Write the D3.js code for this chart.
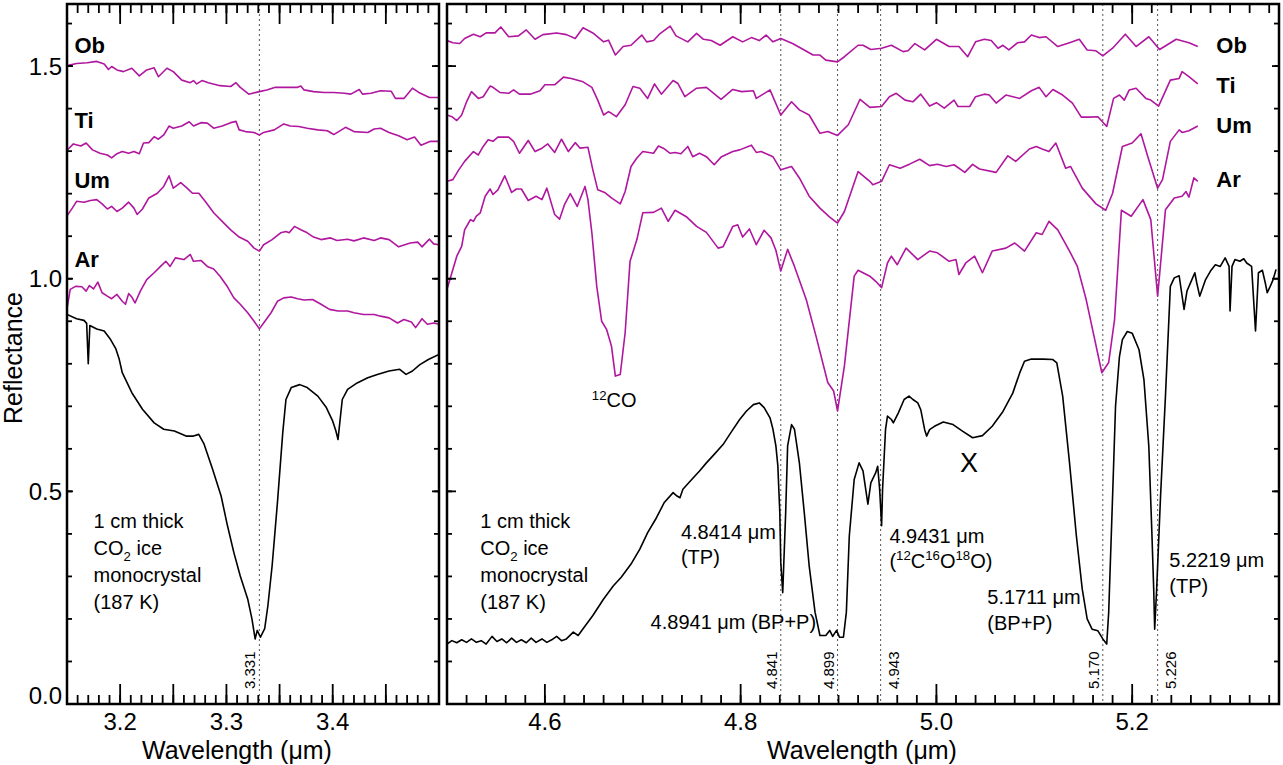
<!DOCTYPE html>
<html>
<head>
<meta charset="utf-8">
<script src="https://cdn.jsdelivr.net/npm/d3@7"></script>
<style>
  body { margin: 0; background: #fff; }
  svg { display: block; font-family: "Liberation Sans", Arial, sans-serif; }
</style>
</head>
<body>
<svg></svg>
<script>
// spectra, [wavelength (um), reflectance]
var obLeft = [[3.150,1.501],[3.159,1.506],[3.169,1.508],[3.178,1.511],[3.185,1.505],[3.189,1.492],[3.192,1.499],[3.197,1.491],[3.203,1.487],[3.211,1.495],[3.218,1.477],[3.225,1.491],[3.232,1.496],[3.236,1.475],[3.244,1.495],[3.250,1.487],[3.258,1.467],[3.266,1.461],[3.269,1.466],[3.272,1.458],[3.277,1.466],[3.283,1.461],[3.294,1.454],[3.304,1.452],[3.309,1.461],[3.313,1.450],[3.321,1.434],[3.331,1.440],[3.338,1.444],[3.346,1.450],[3.357,1.450],[3.367,1.450],[3.370,1.453],[3.373,1.444],[3.382,1.440],[3.392,1.438],[3.401,1.438],[3.411,1.436],[3.417,1.434],[3.425,1.445],[3.428,1.434],[3.436,1.436],[3.445,1.442],[3.455,1.441],[3.459,1.424],[3.467,1.424],[3.475,1.448],[3.481,1.438],[3.491,1.426],[3.500,1.426]];
var tiLeft = [[3.150,1.302],[3.156,1.317],[3.163,1.312],[3.168,1.319],[3.174,1.303],[3.181,1.295],[3.188,1.291],[3.192,1.284],[3.197,1.294],[3.202,1.299],[3.208,1.295],[3.213,1.299],[3.218,1.294],[3.222,1.319],[3.227,1.320],[3.232,1.334],[3.236,1.328],[3.241,1.338],[3.246,1.359],[3.250,1.354],[3.258,1.359],[3.265,1.369],[3.269,1.359],[3.276,1.367],[3.282,1.366],[3.288,1.354],[3.296,1.359],[3.304,1.367],[3.309,1.370],[3.312,1.350],[3.318,1.346],[3.326,1.344],[3.331,1.338],[3.335,1.344],[3.345,1.350],[3.354,1.364],[3.360,1.359],[3.368,1.358],[3.376,1.354],[3.386,1.350],[3.395,1.348],[3.401,1.339],[3.412,1.356],[3.420,1.346],[3.433,1.344],[3.439,1.352],[3.445,1.354],[3.453,1.344],[3.462,1.336],[3.470,1.327],[3.477,1.333],[3.483,1.314],[3.492,1.323],[3.500,1.323]];
var umLeft = [[3.150,1.148],[3.155,1.166],[3.159,1.182],[3.166,1.180],[3.172,1.184],[3.178,1.186],[3.183,1.176],[3.188,1.164],[3.192,1.170],[3.197,1.158],[3.202,1.166],[3.208,1.180],[3.213,1.166],[3.216,1.151],[3.221,1.164],[3.227,1.190],[3.235,1.201],[3.241,1.217],[3.246,1.242],[3.250,1.213],[3.257,1.226],[3.263,1.213],[3.268,1.201],[3.274,1.201],[3.280,1.182],[3.288,1.155],[3.296,1.135],[3.304,1.115],[3.312,1.098],[3.320,1.088],[3.326,1.072],[3.331,1.065],[3.335,1.080],[3.343,1.092],[3.351,1.108],[3.356,1.111],[3.359,1.108],[3.364,1.123],[3.370,1.115],[3.376,1.108],[3.382,1.098],[3.389,1.092],[3.398,1.096],[3.404,1.090],[3.414,1.093],[3.420,1.089],[3.429,1.096],[3.439,1.090],[3.445,1.096],[3.453,1.092],[3.462,1.075],[3.473,1.084],[3.480,1.086],[3.484,1.075],[3.491,1.093],[3.495,1.082],[3.500,1.080]];
var arLeft = [[3.150,0.929],[3.153,0.975],[3.158,0.982],[3.164,0.981],[3.168,0.971],[3.171,0.984],[3.175,0.976],[3.179,0.992],[3.183,0.967],[3.188,0.959],[3.192,0.953],[3.197,0.963],[3.202,0.947],[3.205,0.940],[3.208,0.965],[3.211,0.957],[3.214,0.943],[3.219,0.971],[3.225,0.998],[3.232,1.014],[3.238,1.029],[3.243,1.041],[3.247,1.029],[3.252,1.049],[3.260,1.045],[3.266,1.057],[3.269,1.041],[3.276,1.043],[3.282,1.029],[3.288,1.023],[3.294,1.006],[3.301,0.981],[3.307,0.955],[3.313,0.940],[3.320,0.920],[3.326,0.900],[3.331,0.882],[3.335,0.896],[3.342,0.920],[3.348,0.947],[3.354,0.955],[3.361,0.957],[3.367,0.953],[3.373,0.950],[3.381,0.951],[3.389,0.940],[3.397,0.928],[3.405,0.924],[3.414,0.924],[3.420,0.920],[3.429,0.916],[3.439,0.916],[3.445,0.912],[3.453,0.908],[3.461,0.896],[3.467,0.904],[3.474,0.898],[3.478,0.885],[3.484,0.906],[3.489,0.893],[3.495,0.896],[3.500,0.893]];
var co2Left = [[3.150,0.916],[3.159,0.906],[3.166,0.902],[3.1685,0.895],[3.170,0.800],[3.1715,0.890],[3.178,0.882],[3.185,0.877],[3.191,0.857],[3.196,0.835],[3.199,0.812],[3.202,0.779],[3.211,0.732],[3.221,0.693],[3.232,0.661],[3.241,0.646],[3.251,0.642],[3.262,0.630],[3.269,0.630],[3.274,0.634],[3.279,0.611],[3.287,0.552],[3.295,0.489],[3.301,0.419],[3.307,0.356],[3.313,0.301],[3.320,0.247],[3.324,0.200],[3.327,0.153],[3.329,0.173],[3.332,0.157],[3.336,0.177],[3.339,0.231],[3.343,0.325],[3.348,0.474],[3.353,0.638],[3.356,0.716],[3.361,0.744],[3.369,0.751],[3.376,0.744],[3.386,0.724],[3.394,0.697],[3.400,0.665],[3.403,0.642],[3.405,0.622],[3.406,0.646],[3.409,0.716],[3.414,0.740],[3.423,0.755],[3.433,0.767],[3.442,0.775],[3.453,0.783],[3.463,0.787],[3.469,0.775],[3.475,0.783],[3.482,0.798],[3.490,0.810],[3.500,0.822]];

var obRight = [[4.500,1.560],[4.506,1.555],[4.513,1.553],[4.518,1.565],[4.527,1.575],[4.534,1.569],[4.540,1.578],[4.549,1.578],[4.555,1.592],[4.563,1.569],[4.573,1.571],[4.581,1.585],[4.590,1.563],[4.598,1.574],[4.612,1.578],[4.622,1.574],[4.631,1.565],[4.639,1.590],[4.649,1.578],[4.660,1.557],[4.665,1.561],[4.672,1.526],[4.680,1.546],[4.688,1.549],[4.699,1.573],[4.704,1.557],[4.711,1.560],[4.717,1.575],[4.728,1.594],[4.734,1.571],[4.746,1.557],[4.755,1.577],[4.762,1.563],[4.770,1.560],[4.779,1.549],[4.792,1.569],[4.802,1.557],[4.811,1.567],[4.819,1.560],[4.826,1.573],[4.833,1.557],[4.841,1.565],[4.853,1.553],[4.864,1.539],[4.874,1.526],[4.881,1.526],[4.887,1.514],[4.899,1.510],[4.906,1.522],[4.920,1.549],[4.925,1.549],[4.933,1.539],[4.944,1.542],[4.954,1.549],[4.966,1.534],[4.971,1.536],[4.978,1.553],[4.988,1.538],[5.000,1.563],[5.013,1.546],[5.023,1.546],[5.032,1.522],[5.040,1.557],[5.049,1.563],[5.056,1.560],[5.063,1.542],[5.068,1.549],[5.074,1.538],[5.083,1.555],[5.090,1.557],[5.097,1.573],[5.105,1.567],[5.112,1.569],[5.124,1.546],[5.136,1.555],[5.146,1.563],[5.154,1.538],[5.163,1.536],[5.170,1.524],[5.180,1.542],[5.193,1.575],[5.204,1.546],[5.217,1.569],[5.228,1.539],[5.245,1.563],[5.258,1.555],[5.267,1.546]];
var tiRight = [[4.500,1.385],[4.505,1.381],[4.510,1.372],[4.515,1.385],[4.520,1.416],[4.525,1.440],[4.532,1.424],[4.537,1.428],[4.544,1.453],[4.547,1.450],[4.554,1.438],[4.563,1.436],[4.568,1.444],[4.574,1.434],[4.585,1.434],[4.595,1.442],[4.600,1.456],[4.610,1.456],[4.619,1.474],[4.627,1.471],[4.639,1.463],[4.648,1.450],[4.654,1.420],[4.660,1.385],[4.665,1.393],[4.668,1.389],[4.673,1.381],[4.682,1.409],[4.690,1.452],[4.697,1.448],[4.705,1.424],[4.712,1.458],[4.719,1.434],[4.731,1.466],[4.736,1.459],[4.743,1.428],[4.755,1.448],[4.765,1.450],[4.780,1.422],[4.792,1.445],[4.801,1.440],[4.813,1.442],[4.816,1.424],[4.830,1.444],[4.841,1.385],[4.852,1.416],[4.860,1.397],[4.870,1.385],[4.881,1.342],[4.889,1.346],[4.899,1.337],[4.910,1.362],[4.922,1.422],[4.932,1.403],[4.944,1.405],[4.952,1.428],[4.959,1.436],[4.968,1.420],[4.976,1.416],[4.984,1.434],[4.993,1.406],[5.000,1.414],[5.008,1.401],[5.018,1.420],[5.022,1.405],[5.034,1.405],[5.040,1.428],[5.049,1.434],[5.054,1.432],[5.061,1.413],[5.071,1.432],[5.085,1.424],[5.097,1.442],[5.105,1.450],[5.112,1.428],[5.119,1.445],[5.129,1.432],[5.139,1.413],[5.148,1.380],[5.156,1.380],[5.165,1.381],[5.174,1.358],[5.181,1.424],[5.187,1.432],[5.192,1.420],[5.197,1.444],[5.204,1.448],[5.214,1.424],[5.219,1.420],[5.227,1.406],[5.239,1.467],[5.248,1.471],[5.251,1.487],[5.258,1.475],[5.267,1.458]];
var umRight = [[4.500,1.229],[4.506,1.233],[4.512,1.256],[4.518,1.276],[4.527,1.299],[4.532,1.291],[4.537,1.311],[4.542,1.327],[4.547,1.323],[4.552,1.333],[4.563,1.333],[4.568,1.323],[4.574,1.295],[4.583,1.325],[4.590,1.299],[4.597,1.307],[4.603,1.317],[4.610,1.297],[4.617,1.328],[4.624,1.299],[4.631,1.320],[4.636,1.307],[4.644,1.309],[4.649,1.256],[4.654,1.209],[4.661,1.203],[4.668,1.190],[4.677,1.176],[4.682,1.205],[4.688,1.264],[4.694,1.284],[4.700,1.299],[4.711,1.295],[4.716,1.312],[4.721,1.307],[4.728,1.295],[4.733,1.297],[4.739,1.294],[4.746,1.311],[4.751,1.287],[4.758,1.295],[4.765,1.287],[4.773,1.268],[4.780,1.286],[4.792,1.299],[4.799,1.303],[4.811,1.314],[4.816,1.297],[4.821,1.299],[4.833,1.287],[4.841,1.256],[4.852,1.264],[4.860,1.237],[4.870,1.194],[4.881,1.166],[4.891,1.145],[4.899,1.131],[4.906,1.158],[4.920,1.252],[4.932,1.229],[4.935,1.221],[4.944,1.229],[4.952,1.268],[4.963,1.260],[4.973,1.270],[4.983,1.281],[4.993,1.266],[5.001,1.269],[5.010,1.264],[5.018,1.268],[5.029,1.250],[5.037,1.269],[5.044,1.258],[5.061,1.250],[5.073,1.289],[5.081,1.276],[5.095,1.305],[5.102,1.311],[5.108,1.305],[5.115,1.299],[5.122,1.319],[5.132,1.260],[5.137,1.264],[5.149,1.213],[5.163,1.176],[5.173,1.161],[5.180,1.201],[5.190,1.311],[5.200,1.319],[5.209,1.341],[5.216,1.287],[5.226,1.213],[5.231,1.233],[5.239,1.323],[5.248,1.350],[5.251,1.344],[5.258,1.348],[5.267,1.359]];
var arRight = [[4.500,0.975],[4.505,1.014],[4.510,1.053],[4.515,1.076],[4.518,1.115],[4.522,1.131],[4.524,1.139],[4.527,1.135],[4.530,1.147],[4.534,1.155],[4.539,1.194],[4.544,1.211],[4.547,1.198],[4.552,1.209],[4.559,1.242],[4.566,1.203],[4.571,1.211],[4.576,1.211],[4.583,1.184],[4.591,1.194],[4.597,1.186],[4.602,1.213],[4.610,1.151],[4.615,1.140],[4.620,1.174],[4.626,1.200],[4.633,1.170],[4.641,1.217],[4.644,1.186],[4.648,1.108],[4.653,0.982],[4.658,0.900],[4.663,0.881],[4.668,0.842],[4.672,0.771],[4.677,0.775],[4.682,0.873],[4.687,1.041],[4.694,1.092],[4.700,1.155],[4.711,1.156],[4.719,1.166],[4.726,1.135],[4.733,1.161],[4.745,1.145],[4.755,1.123],[4.765,1.109],[4.777,1.072],[4.782,1.075],[4.792,1.123],[4.797,1.127],[4.802,1.098],[4.809,1.117],[4.816,1.080],[4.824,1.114],[4.831,1.096],[4.836,1.067],[4.841,1.018],[4.848,1.069],[4.855,1.029],[4.867,0.951],[4.877,0.865],[4.889,0.756],[4.895,0.736],[4.899,0.689],[4.906,0.795],[4.916,1.006],[4.920,1.020],[4.932,1.006],[4.938,0.994],[4.944,0.979],[4.950,1.037],[4.954,1.053],[4.960,1.033],[4.969,1.072],[4.981,1.045],[4.993,1.065],[5.001,1.061],[5.013,1.041],[5.020,1.045],[5.023,1.010],[5.030,1.037],[5.039,1.053],[5.047,1.014],[5.057,1.065],[5.071,1.072],[5.080,1.084],[5.090,1.065],[5.102,1.108],[5.108,1.104],[5.115,1.135],[5.124,1.115],[5.136,1.065],[5.144,1.029],[5.153,0.951],[5.161,0.865],[5.169,0.779],[5.176,0.803],[5.182,0.904],[5.189,1.161],[5.199,1.147],[5.211,1.186],[5.219,1.139],[5.226,0.959],[5.234,1.162],[5.243,1.190],[5.251,1.194],[5.255,1.205],[5.258,1.192],[5.263,1.237],[5.267,1.229]];
var co2Right = [[4.500,0.141],[4.505,0.149],[4.510,0.144],[4.515,0.151],[4.520,0.145],[4.525,0.153],[4.530,0.145],[4.535,0.149],[4.540,0.141],[4.546,0.159],[4.551,0.147],[4.556,0.153],[4.561,0.144],[4.566,0.155],[4.571,0.145],[4.576,0.151],[4.581,0.144],[4.586,0.155],[4.591,0.145],[4.597,0.153],[4.602,0.145],[4.607,0.151],[4.612,0.159],[4.617,0.149],[4.622,0.153],[4.629,0.169],[4.634,0.161],[4.639,0.177],[4.649,0.208],[4.660,0.247],[4.670,0.278],[4.678,0.298],[4.688,0.329],[4.697,0.364],[4.705,0.403],[4.714,0.438],[4.722,0.474],[4.731,0.497],[4.735,0.489],[4.738,0.485],[4.741,0.505],[4.750,0.528],[4.758,0.548],[4.765,0.567],[4.773,0.587],[4.782,0.610],[4.790,0.638],[4.799,0.669],[4.806,0.689],[4.813,0.704],[4.819,0.708],[4.824,0.697],[4.830,0.673],[4.833,0.646],[4.836,0.607],[4.838,0.560],[4.840,0.450],[4.841,0.333],[4.843,0.262],[4.844,0.325],[4.846,0.450],[4.848,0.607],[4.852,0.657],[4.855,0.646],[4.860,0.567],[4.865,0.450],[4.870,0.325],[4.876,0.216],[4.881,0.161],[4.887,0.161],[4.891,0.173],[4.894,0.159],[4.898,0.173],[4.901,0.157],[4.905,0.157],[4.908,0.216],[4.911,0.395],[4.916,0.528],[4.921,0.567],[4.925,0.548],[4.930,0.470],[4.933,0.520],[4.938,0.544],[4.940,0.559],[4.942,0.505],[4.944,0.419],[4.945,0.505],[4.948,0.645],[4.950,0.677],[4.954,0.669],[4.956,0.661],[4.961,0.684],[4.967,0.716],[4.972,0.724],[4.976,0.716],[4.981,0.708],[4.984,0.692],[4.988,0.645],[4.990,0.630],[4.993,0.645],[4.998,0.653],[5.007,0.663],[5.017,0.657],[5.027,0.641],[5.037,0.626],[5.047,0.631],[5.057,0.653],[5.068,0.688],[5.078,0.731],[5.085,0.778],[5.090,0.806],[5.097,0.811],[5.109,0.811],[5.119,0.810],[5.123,0.802],[5.129,0.724],[5.136,0.567],[5.143,0.395],[5.149,0.270],[5.154,0.200],[5.159,0.176],[5.165,0.172],[5.170,0.153],[5.174,0.141],[5.176,0.215],[5.180,0.489],[5.183,0.700],[5.187,0.817],[5.190,0.857],[5.195,0.876],[5.200,0.872],[5.207,0.833],[5.212,0.763],[5.217,0.606],[5.220,0.411],[5.222,0.270],[5.223,0.176],[5.225,0.270],[5.229,0.489],[5.234,0.724],[5.239,0.982],[5.243,1.002],[5.248,1.007],[5.253,0.928],[5.256,0.971],[5.261,0.998],[5.264,1.014],[5.266,0.990],[5.269,0.959],[5.275,0.998],[5.280,1.018],[5.285,1.033],[5.290,1.029],[5.295,1.049],[5.299,1.029],[5.300,0.924],[5.302,1.029],[5.305,1.045],[5.310,1.041],[5.314,1.047],[5.317,1.037],[5.322,1.029],[5.326,0.877],[5.329,1.014],[5.333,1.020],[5.336,0.990],[5.338,0.967],[5.341,0.982],[5.344,0.998],[5.347,1.022]];

// band positions (um) and which side of the dotted line the label sits
var bandsLeft = [3.331];
var sideLeft = ['l'];
var bandsRight = [4.841, 4.899, 4.943, 5.170, 5.226];
var sideRight = ['l', 'l', 'r', 'l', 'r'];

var seriesNames = ['Ob', 'Ti', 'Um', 'Ar'];
var labelYLeft = [1.531, 1.354, 1.213, 1.027];
var labelYRight = [1.531, 1.437, 1.343, 1.216];

var xTicksLeft = [3.2, 3.3, 3.4];
var xTicksRight = [4.6, 4.8, 5.0, 5.2];
var yTicks = [0, 0.5, 1.0, 1.5];

var MAG = '#b0169e';
var width = 1283, height = 765;
var yTop = 4, yBot = 704;

var svg = d3.select('svg').attr('width', width).attr('height', height);

var y = d3.scaleLinear().domain([0, 1.646]).range([yBot, yTop]);
var xL = d3.scaleLinear().domain([3.15, 3.5]).range([67, 439]);
var xR = d3.scaleLinear().domain([4.5, 5.35]).range([447, 1279]);

// rich text with sub/superscripts
function rich(g, px, py, parts, size) {
    var t = g.append('text').attr('x', px).attr('y', py).attr('font-size', size);
    var shift = 0;
    parts.forEach(function(p) {
        var target = p[1] === 'sup' ? -0.38 * size : p[1] === 'sub' ? 0.28 * size : 0;
        t.append('tspan')
            .attr('dy', target - shift)
            .attr('font-size', p[1] ? size * 0.66 : size)
            .text(p[0]);
        shift = target;
    });
    return t;
}

// inward ticks drawn as thin filled rects, on top of everything in the panel
function xTicks(g, x, vals, len) {
    g.selectAll(null).data(vals).enter().append('rect')
        .attr('x', d => x(d) - 0.9).attr('y', yBot - len)
        .attr('width', 1.8).attr('height', len).attr('fill', '#000');
    g.selectAll(null).data(vals).enter().append('rect')
        .attr('x', d => x(d) - 0.9).attr('y', yTop)
        .attr('width', 1.8).attr('height', len).attr('fill', '#000');
}
function yTicksAt(g, px, dir, vals, len) {
    g.selectAll(null).data(vals).enter().append('rect')
        .attr('x', dir > 0 ? px : px - len).attr('y', d => y(d) - 0.9)
        .attr('width', len).attr('height', 1.8).attr('fill', '#000');
}

function drawPanel(id, x, curves, co2, bands, sides, minorX, majorX, labeledX, labelY, labelX, showY) {
    var g = svg.append('g');
    var x0 = x.range()[0], x1 = x.range()[1];

    g.append('clipPath').attr('id', 'clip' + id)
        .append('rect').attr('x', x0).attr('y', yTop).attr('width', x1 - x0).attr('height', yBot - yTop);

    // dotted band markers
    g.selectAll(null).data(bands).enter().append('line')
        .attr('x1', d => x(d)).attr('x2', d => x(d))
        .attr('y1', yTop).attr('y2', yBot)
        .attr('stroke', '#555').attr('stroke-width', 1).attr('stroke-dasharray', '2,3');

    g.selectAll(null).data(bands).enter().append('text')
        .attr('transform', (d, i) => 'translate(' + (x(d) + (sides[i] === 'l' ? -4 : 18)) + ',689) rotate(-90)')
        .attr('font-size', 15)
        .text(d => d.toFixed(3));

    var line = d3.line().x(d => x(d[0])).y(d => y(d[1]));
    var plot = g.append('g').attr('clip-path', 'url(#clip' + id + ')');
    plot.selectAll(null).data(curves).enter().append('path')
        .attr('d', line).attr('fill', 'none')
        .attr('stroke', MAG).attr('stroke-width', 1.6).attr('stroke-linejoin', 'round');
    plot.append('path').datum(co2)
        .attr('d', line).attr('fill', 'none')
        .attr('stroke', '#000').attr('stroke-width', 1.6).attr('stroke-linejoin', 'round');

    // series names
    g.selectAll(null).data(seriesNames).enter().append('text')
        .attr('x', x(labelX)).attr('y', (d, i) => y(labelY[i]))
        .attr('font-size', 22).attr('font-weight', 'bold')
        .text(d => d);

    g.append('rect')
        .attr('x', x0).attr('y', yTop).attr('width', x1 - x0).attr('height', yBot - yTop)
        .attr('fill', 'none').attr('stroke', '#000').attr('stroke-width', 2.5);

    var ax = g.append('g');
    xTicks(ax, x, minorX, 9);
    xTicks(ax, x, majorX, 20);
    var minorY = d3.range(0, 17).map(d => d / 10);
    yTicksAt(ax, x0, 1, minorY, 5);
    yTicksAt(ax, x0, 1, yTicks, showY ? 6 : 9);
    yTicksAt(ax, x1, -1, minorY, 5);
    yTicksAt(ax, x1, -1, yTicks, 7);

    ax.selectAll(null).data(labeledX).enter().append('text')
        .attr('x', d => x(d)).attr('y', 730)
        .attr('text-anchor', 'middle').attr('font-size', 24)
        .text(d => d.toFixed(1));
    if (showY) {
        ax.selectAll(null).data(yTicks).enter().append('text')
            .attr('x', x0 - 5).attr('y', d => d === 0 ? y(d) : y(d) + 8.5)
            .attr('text-anchor', 'end').attr('font-size', 24)
            .text(d => d3.format('.1f')(d));
    }
    return g;
}

var gL = drawPanel('L', xL, [obLeft, tiLeft, umLeft, arLeft], co2Left, bandsLeft, sideLeft,
    d3.range(315, 351).map(d => d / 100), d3.range(63, 71).map(d => d / 20), xTicksLeft,
    labelYLeft, 3.157, true);
var gR = drawPanel('R', xR, [obRight, tiRight, umRight, arRight], co2Right, bandsRight, sideRight,
    d3.range(225, 268).map(d => d / 50), xTicksRight, xTicksRight,
    labelYRight, 5.286, false);

// annotations, anchored in data units
var blockLines = [[['1 cm thick']], [['CO'], ['2', 'sub'], [' ice']], [['monocrystal']], [['(187 K)']]];
var notesLeft = [{x: 3.175, y: 0.414, gap: 27, lines: blockLines}];
var notesRight = [
    {x: 4.534, y: 0.414, gap: 27, lines: blockLines},
    {x: 4.648, y: 0.698, gap: 26, lines: [[['12', 'sup'], ['CO']]]},
    {x: 4.739, y: 0.388, gap: 25, lines: [[['4.8414 μm']], [['(TP)']]]},
    {x: 4.708, y: 0.176, gap: 26, lines: [[['4.8941 μm (BP+P)']]]},
    {x: 4.952, y: 0.379, gap: 25, lines: [[['4.9431 μm']], [['('], ['12', 'sup'], ['C'], ['16', 'sup'], ['O'], ['18', 'sup'], ['O)']]]},
    {x: 5.052, y: 0.235, gap: 26, lines: [[['5.1711 μm']], [['(BP+P)']]]},
    {x: 5.238, y: 0.322, gap: 26, lines: [[['5.2219 μm']], [['(TP)']]]}
];

function drawNotes(g, x, notes) {
    notes.forEach(function(n) {
        n.lines.forEach(function(parts, i) {
            rich(g, x(n.x), y(n.y) + i * n.gap, parts, 20);
        });
    });
}
drawNotes(gL, xL, notesLeft);
drawNotes(gR, xR, notesRight);

gR.append('text').attr('x', xR(5.024)).attr('y', y(0.545))
    .attr('font-size', 27).text('X');

// axis titles
svg.append('text').attr('x', 237).attr('y', 759).attr('text-anchor', 'middle')
    .attr('font-size', 25).text('Wavelength (μm)');
svg.append('text').attr('x', 862).attr('y', 759).attr('text-anchor', 'middle')
    .attr('font-size', 25).text('Wavelength (μm)');
svg.append('text').attr('transform', 'translate(22,358) rotate(-90)').attr('text-anchor', 'middle')
    .attr('font-size', 25).text('Reflectance');
</script>
</body>
</html>
